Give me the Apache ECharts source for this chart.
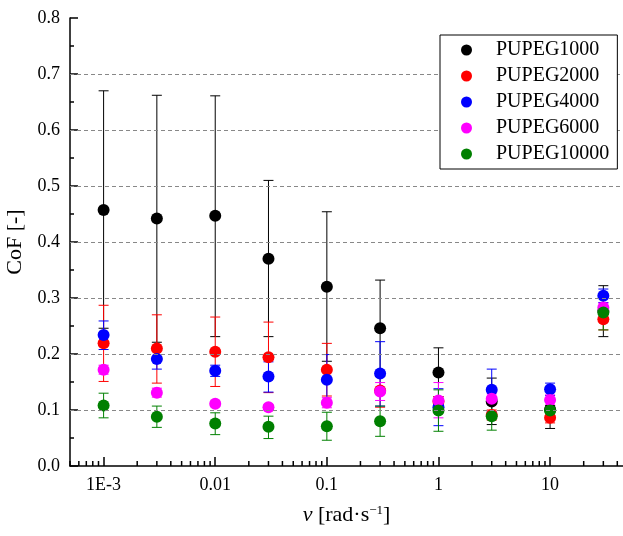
<!DOCTYPE html>
<html>
<head>
<meta charset="utf-8">
<script src="https://cdn.jsdelivr.net/npm/echarts@6/dist/echarts.min.js"></script>
<style>
  html, body { margin: 0; padding: 0; background: #fff; }
  #chart { width: 623px; height: 536px; }
</style>
</head>
<body>
<div id="chart"></div>
<script>
// sliding velocity, rad/s
const speeds = [0.001, 0.003, 0.01, 0.03, 0.1, 0.3, 1, 3, 10, 30];

const names = ['PUPEG1000', 'PUPEG2000', 'PUPEG4000', 'PUPEG6000', 'PUPEG10000'];
const colors = ['#000000', '#ff0000', '#0000ff', '#ff00ff', '#008000'];

// mean CoF and error bar bounds per material
const cof1000 = [0.457, 0.442, 0.447, 0.370, 0.320, 0.246, 0.167, 0.115, 0.101, 0.277];
const lo1000  = [0.246, 0.221, 0.231, 0.231, 0.187, 0.160, 0.124, 0.074, 0.067, 0.231];
const hi1000  = [0.670, 0.662, 0.661, 0.510, 0.454, 0.332, 0.211, 0.157, 0.136, 0.322];

const cof2000 = [0.219, 0.210, 0.204, 0.194, 0.172, 0.135, 0.115, 0.091, 0.086, 0.262];
const lo2000  = [0.151, 0.148, 0.142, 0.131, 0.125, 0.105, 0.106, 0.082, 0.077, 0.243];
const hi2000  = [0.287, 0.270, 0.266, 0.257, 0.219, 0.165, 0.124, 0.100, 0.095, 0.281];

const cof4000 = [0.234, 0.191, 0.170, 0.160, 0.154, 0.165, 0.105, 0.136, 0.137, 0.304];
const lo4000  = [0.208, 0.173, 0.160, 0.132, 0.110, 0.107, 0.072, 0.097, 0.126, 0.292];
const hi4000  = [0.259, 0.209, 0.180, 0.186, 0.199, 0.222, 0.138, 0.173, 0.148, 0.316];

const cof6000 = [0.172, 0.131, 0.111, 0.105, 0.113, 0.133, 0.117, 0.120, 0.118, 0.283];
const lo6000  = [0.164, 0.123, 0.106, 0.100, 0.104, 0.117, 0.086, 0.111, 0.109, 0.275];
const hi6000  = [0.180, 0.139, 0.116, 0.110, 0.122, 0.149, 0.149, 0.129, 0.127, 0.291];

const cof10000 = [0.108, 0.088, 0.076, 0.070, 0.071, 0.080, 0.099, 0.089, 0.099, 0.274];
const lo10000  = [0.086, 0.069, 0.056, 0.049, 0.046, 0.053, 0.062, 0.064, 0.090, 0.243];
const hi10000  = [0.130, 0.107, 0.095, 0.089, 0.096, 0.107, 0.136, 0.114, 0.108, 0.305];

const xTickValues = [0.001, 0.01, 0.1, 1, 10];
const xTickLabels = ['1E-3', '0.01', '0.1', '1', '10'];
const gridLevels = [0.1, 0.2, 0.3, 0.4, 0.5, 0.6, 0.7];

// minor ticks at 2..9 of each decade
const xMinorTicks = [];
[0.0001, 0.001, 0.01, 0.1, 1, 10].forEach(d => {
  for (let k = 2; k <= 9; k++) {
    const v = +(d * k).toPrecision(3);
    if (v > 0.00049 && v < 45) xMinorTicks.push(v);
  }
});

const allCof = [cof1000, cof2000, cof4000, cof6000, cof10000];
const allLo = [lo1000, lo2000, lo4000, lo6000, lo10000];
const allHi = [hi1000, hi2000, hi4000, hi6000, hi10000];

const font = 'Liberation Serif';

const chart = echarts.init(document.getElementById('chart'));

const series = [
  {
    name: 'grid',
    type: 'scatter',
    data: [],
    z: 1,
    silent: true,
    markLine: {
      silent: true,
      symbol: 'none',
      label: { show: false },
      lineStyle: { color: '#888', type: [4, 3], width: 1 },
      data: gridLevels.map(v => ({ yAxis: v }))
    }
  },
  {
    name: 'minor',
    type: 'custom',
    silent: true,
    clip: false,
    data: xMinorTicks.map(v => [v, 0]),
    renderItem: function (params, api) {
      const p = api.coord([api.value(0), 0]);
      return {
        type: 'line',
        shape: { x1: p[0], y1: p[1], x2: p[0], y2: p[1] - 5 },
        style: { stroke: '#000', lineWidth: 1.5 }
      };
    },
    z: 5
  }
];

names.forEach((name, i) => {
  const color = colors[i];
  series.push({
    name: name + ' err',
    type: 'custom',
    silent: true,
    data: speeds.map((x, j) => [x, allCof[i][j], allLo[i][j], allHi[i][j]]),
    encode: { x: 0, y: 1 },
    renderItem: function (params, api) {
      const x = api.value(0);
      const lo = api.coord([x, api.value(2)]);
      const hi = api.coord([x, api.value(3)]);
      const w = 5;
      const st = { stroke: color, lineWidth: 1 };
      return {
        type: 'group',
        children: [
          { type: 'line', shape: { x1: lo[0], y1: lo[1], x2: hi[0], y2: hi[1] }, style: st },
          { type: 'line', shape: { x1: lo[0] - w, y1: lo[1], x2: lo[0] + w, y2: lo[1] }, style: st },
          { type: 'line', shape: { x1: hi[0] - w, y1: hi[1], x2: hi[0] + w, y2: hi[1] }, style: st }
        ]
      };
    },
    z: 2
  });
  series.push({
    name: name,
    type: 'scatter',
    symbol: 'circle',
    symbolSize: 12,
    itemStyle: { color: color, opacity: 1 },
    data: speeds.map((x, j) => [x, allCof[i][j]]),
    z: 2
  });
});

chart.setOption({
  animation: false,
  backgroundColor: '#fff',
  grid: { left: 70, right: 0, top: 18, bottom: 70, outerBoundsMode: 'none', containLabel: false },
  legend: {
    data: names,
    orient: 'vertical',
    left: 440,
    top: 35,
    padding: [5, 8, 5, 21],
    itemGap: 6,
    itemWidth: 11,
    itemHeight: 11,
    icon: 'circle',
    borderColor: '#000',
    borderWidth: 1,
    backgroundColor: '#fff',
    z: 10,
    textStyle: { fontFamily: font, fontSize: 20, color: '#000', lineHeight: 20, padding: [0, 0, 0, 19] }
  },
  xAxis: {
    type: 'log',
    logBase: 10,
    min: 0.0005,
    max: 45,
    name: '{it|ν} [rad·s{sup|−1}]',
    nameLocation: 'middle',
    nameGap: 38,
    nameTextStyle: {
      fontFamily: font, fontSize: 22, color: '#000',
      rich: {
        it: { fontFamily: font, fontSize: 22, fontStyle: 'italic', color: '#000' },
        sup: { fontFamily: font, fontSize: 13, color: '#000', verticalAlign: 'top' }
      }
    },
    axisLine: { onZero: false, lineStyle: { color: '#000', width: 1.5 } },
    axisTick: { inside: true, length: 9, lineStyle: { color: '#000', width: 1.5 } },
    axisLabel: {
      showMinLabel: false,
      showMaxLabel: false,
      margin: 10,
      fontFamily: font, fontSize: 18, color: '#000',
      formatter: function (v) {
        const k = xTickValues.findIndex(t => Math.abs(Math.log10(t) - Math.log10(v)) < 1e-6);
        return k >= 0 ? xTickLabels[k] : '';
      }
    },
    splitLine: { show: false }
  },
  yAxis: {
    type: 'value',
    min: 0,
    max: 0.8,
    interval: 0.1,
    name: 'CoF [-]',
    nameLocation: 'middle',
    nameGap: 36,
    nameTextStyle: { fontFamily: font, fontSize: 22, color: '#000' },
    axisLine: { show: true, lineStyle: { color: '#000', width: 1.5 } },
    axisTick: { inside: true, length: 8, lineStyle: { color: '#000', width: 1.5 } },
    minorTick: { show: true, splitNumber: 2, length: 4, lineStyle: { color: '#000', width: 1.5 } },
    axisLabel: {
      margin: 10,
      fontFamily: font, fontSize: 18, color: '#000',
      formatter: v => v.toFixed(1)
    },
    splitLine: { show: false }
  },
  series: series
});
</script>
</body>
</html>
